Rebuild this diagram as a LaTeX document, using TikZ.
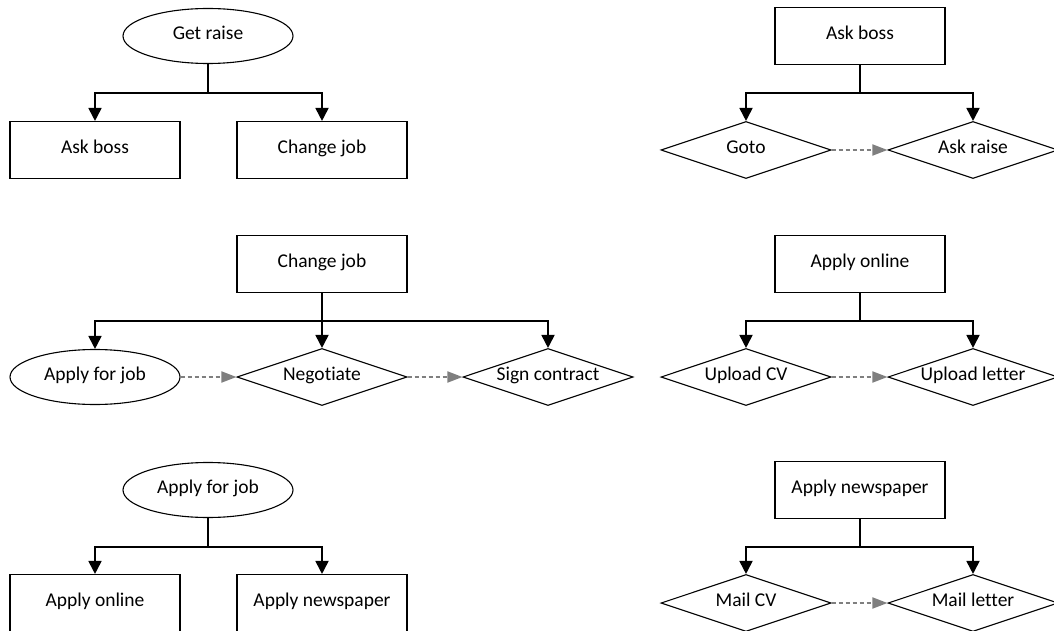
\documentclass[tikz,border=0pt]{standalone}
\usepackage{fontspec}
\setmainfont{Carlito}[Ligatures={NoCommon}]
\usetikzlibrary{shapes.geometric,arrows.meta}
\definecolor{dgray}{HTML}{7F7F7F}
\tikzset{
  base/.style={draw=black, line width=1.1pt, fill=white, inner sep=0pt, font=\fontsize{19.5}{23}\selectfont, text=black, text height=1.0em, text depth=0.22em},
  boxnode/.style={base, rectangle, minimum width=170pt, minimum height=57pt},
  ellnode/.style={base, ellipse, minimum width=170pt, minimum height=55pt},
  dianode/.style={base, diamond, aspect=3, minimum width=170pt, minimum height=57pt},
  conn/.style={draw=black, line width=1.8pt},
  arr/.style={conn, -{Triangle[length=13pt,width=13pt]}},
  dasharr/.style={draw=dgray, line width=1.8pt, dash pattern=on 4pt off 3pt, -{Triangle[length=15pt,width=11pt]}}
}
\begin{document}
\begin{tikzpicture}[x=1pt,y=-1pt]
\useasboundingbox (0,0) rectangle (1054,631);
% ---- Block 1 (top left)
\node[ellnode] (gr) at (208,36) {Get raise};
\node[boxnode] (ab) at (95,150) {Ask boss};
\node[boxnode] (cj) at (322,150) {Change job};
\coordinate (j1) at (208,93);
\draw[conn] (gr.south) -- (j1);
\draw[arr] (j1) -| (ab.north);
\draw[arr] (j1) -| (cj.north);
% ---- Block 2 (top right)
\node[boxnode] (ab2) at (860,36) {Ask boss};
\node[dianode] (gt) at (746,150) {Goto};
\node[dianode] (ar) at (973,150) {Ask raise};
\coordinate (j2) at (860,93);
\draw[conn] (ab2.south) -- (j2);
\draw[arr] (j2) -| (gt.north);
\draw[arr] (j2) -| (ar.north);
\draw[dasharr] (gt.east) -- (ar.west);
% ---- Block 3 (middle left)
\node[boxnode] (cj2) at (322,264) {Change job};
\node[ellnode] (afj) at (95,377) {Apply for job};
\node[dianode] (ng) at (322,377) {Negotiate};
\node[dianode] (sc) at (548,377) {Sign contract};
\coordinate (j3) at (322,321);
\draw[conn] (cj2.south) -- (j3);
\draw[arr] (j3) -| (afj.north);
\draw[arr] (j3) -- (ng.north);
\draw[arr] (j3) -| (sc.north);
\draw[dasharr] (afj.east) -- (ng.west);
\draw[dasharr] (ng.east) -- (sc.west);
% ---- Block 4 (middle right)
\node[boxnode] (ao) at (860,264) {Apply online};
\node[dianode] (ucv) at (746,377) {Upload CV};
\node[dianode] (ul) at (973,377) {Upload letter};
\coordinate (j4) at (860,321);
\draw[conn] (ao.south) -- (j4);
\draw[arr] (j4) -| (ucv.north);
\draw[arr] (j4) -| (ul.north);
\draw[dasharr] (ucv.east) -- (ul.west);
% ---- Block 5 (bottom left)
\node[ellnode] (afj2) at (208,490) {Apply for job};
\node[boxnode] (ao2) at (95,603) {Apply online};
\node[boxnode] (an) at (322,603) {Apply newspaper};
\coordinate (j5) at (208,547);
\draw[conn] (afj2.south) -- (j5);
\draw[arr] (j5) -| (ao2.north);
\draw[arr] (j5) -| (an.north);
% ---- Block 6 (bottom right)
\node[boxnode] (an2) at (860,490) {Apply newspaper};
\node[dianode] (mcv) at (746,603) {Mail CV};
\node[dianode] (ml) at (973,603) {Mail letter};
\coordinate (j6) at (860,547);
\draw[conn] (an2.south) -- (j6);
\draw[arr] (j6) -| (mcv.north);
\draw[arr] (j6) -| (ml.north);
\draw[dasharr] (mcv.east) -- (ml.west);
\end{tikzpicture}
\end{document}
